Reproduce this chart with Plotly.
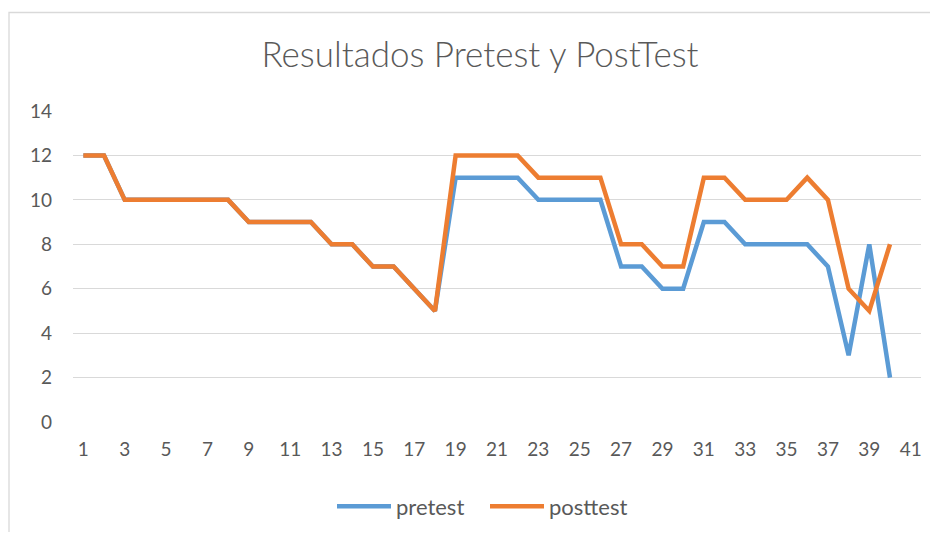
import plotly.graph_objects as go

categories = list(range(1, 42))
pretest = [12, 12, 10, 10, 10, 10, 10, 10, 9, 9, 9, 9, 8, 8, 7, 7, 6, 5,
           11, 11, 11, 11, 10, 10, 10, 10, 7, 7, 6, 6, 9, 9, 8, 8, 8, 8, 7, 3, 8, 2, None]
posttest = [12, 12, 10, 10, 10, 10, 10, 10, 9, 9, 9, 9, 8, 8, 7, 7, 6, 5,
            12, 12, 12, 12, 11, 11, 11, 11, 8, 8, 7, 7, 11, 11, 10, 10, 10, 11, 10, 6, 5, 8, None]
x_ticks = list(range(1, 42, 2))
y_ticks = list(range(0, 15, 2))

FONT = "Lato"
GREY = "#595959"
OFF = 8  # page body margin offset

W = 938 - 2 * OFF
H = 540 - 2 * OFF
L = 73 - OFF
T = 110.7 - OFF
PW = 848
PH = 311.6

fig = go.Figure()
fig.add_trace(go.Scatter(x=categories, y=pretest, name="pretest", mode="lines",
                         line=dict(color="#5B9BD5", width=4.5), connectgaps=False))
fig.add_trace(go.Scatter(x=categories, y=posttest, name="posttest", mode="lines",
                         line=dict(color="#ED7D31", width=4.5), connectgaps=False))

fig.update_layout(
    width=W, height=H,
    margin=dict(l=L, r=W - L - PW, t=T, b=H - T - PH, autoexpand=False),
    paper_bgcolor="white", plot_bgcolor="white",
    title=dict(text="Resultados Pretest y PostTest", x=(480 - OFF) / W, xanchor="center",
               y=1 - (55 - OFF) / H, yanchor="middle", yref="container",
               font=dict(family=FONT, size=35, color=GREY, weight=300)),
    showlegend=True,
    legend=dict(orientation="h", x=(485 - OFF - L) / PW, xanchor="center",
                y=(422.3 - 507) / PH, yanchor="middle",
                font=dict(family=FONT, size=22, color=GREY), itemwidth=54,
                entrywidth=84, entrywidthmode="pixels",
                bgcolor="rgba(0,0,0,0)"),
    xaxis=dict(range=[0.5, 41.5], tickmode="array", tickvals=x_ticks,
               ticktext=[str(v) for v in x_ticks], showgrid=False, zeroline=False,
               showline=False, ticks="", ticklabelstandoff=14,
               tickfont=dict(family=FONT, size=19, color=GREY)),
    yaxis=dict(range=[0, 14], tickmode="array", tickvals=y_ticks,
               showgrid=True, gridcolor="#D9D9D9", gridwidth=1.3, zeroline=False,
               showline=False, ticks="", ticklabelstandoff=20,
               tickfont=dict(family=FONT, size=19, color=GREY)),
    shapes=[dict(type="rect", xref="paper", yref="paper",
                 x0=(9 - 73) / PW, x1=(1300 - 73) / PW,
                 y0=(422.3 - 800) / PH, y1=(422.3 - 12) / PH,
                 line=dict(color="#D9D9D9", width=1.3), layer="below")],
)

fig.write_html("out.html")
